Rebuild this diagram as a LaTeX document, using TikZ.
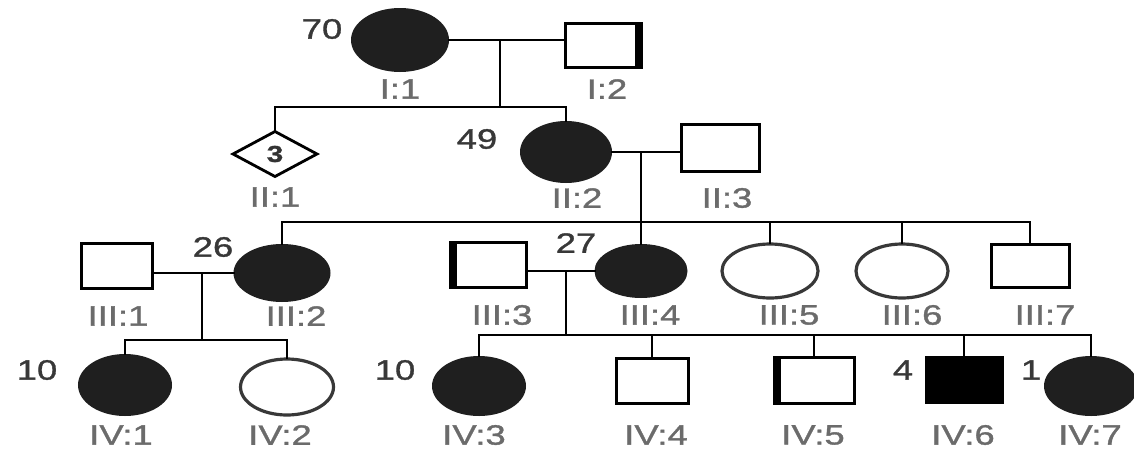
\documentclass[tikz,border=0pt]{standalone}
\usepackage{fontspec}
\setmainfont{Liberation Sans}
\newfontfamily\labfont[FakeStretch=1.3,FakeBold=1.2]{Liberation Sans}
\usetikzlibrary{shapes.geometric}

\tikzset{
  conn/.style={line width=2.6pt, draw=black},
  fem/.style={ellipse, draw, line width=2pt, minimum width=92pt, minimum height=58pt,
              inner sep=0pt, outer sep=0pt},
  aff/.style={fill=black!88, draw=black!88},
  unaff/.style={fill=white, draw=black!78, line width=3.2pt},
  mal/.style={rectangle, draw=black, line width=3pt, fill=white,
              minimum width=76pt, minimum height=45pt, inner sep=0pt, outer sep=0pt},
  malaff/.style={fill=black},
  heavyedge/.style={line width=8pt, draw=black},
  lab/.style={font=\labfont\fontsize{28}{30}\selectfont, text=black!58, inner sep=0pt},
  age/.style={font=\labfont\fontsize{28}{30}\selectfont, text=black!78, inner sep=0pt},
  sibcount/.style={diamond, draw=black, line width=2.8pt, fill=white,
              minimum width=84pt, minimum height=45pt, inner sep=0pt, outer sep=0pt,
              font=\labfont\fontsize{23}{25}\bfseries\selectfont, text=black!80},
}

\begin{document}
\begin{tikzpicture}[x=1pt, y=-1pt]
\fill[white] (0,0) rectangle (1134,450);
\useasboundingbox (0,0) rectangle (1134,450);

% ---------- generation I ----------
\node[fem, aff, minimum width=96pt, minimum height=62pt] (I1) at (400,40) {};
\node[mal, minimum width=76pt, minimum height=44pt] (I2) at (603,45) {};
\draw[heavyedge] ([xshift=-2.5pt]I2.north east) -- ([xshift=-2.5pt]I2.south east);

% ---------- generation II ----------
\node[sibcount] (II1) at (275,154) {3};
\node[fem, aff, minimum width=90pt, minimum height=60pt] (II2) at (566,152) {};
\node[mal, minimum width=78pt, minimum height=47pt] (II3) at (720,148) {};

% ---------- generation III ----------
\node[mal, minimum width=71pt, minimum height=45pt] (III1) at (117,266) {};
\node[fem, aff, minimum width=95pt, minimum height=56pt] (III2) at (282,273) {};
\node[mal, minimum width=76pt, minimum height=45pt] (III3) at (488,265) {};
\draw[heavyedge] ([xshift=2.5pt]III3.north west) -- ([xshift=2.5pt]III3.south west);
\node[fem, aff, minimum width=91pt, minimum height=52pt] (III4) at (641,271) {};
\node[fem, unaff, minimum width=96pt, minimum height=54pt] (III5) at (770,271) {};
\node[fem, unaff, minimum width=92pt, minimum height=54pt] (III6) at (902,271) {};
\node[mal, minimum width=78pt, minimum height=43pt] (III7) at (1030,266) {};

% ---------- generation IV ----------
\node[fem, aff, minimum width=92pt, minimum height=60pt] (IV1) at (125,385) {};
\node[fem, unaff, minimum width=93pt, minimum height=56pt] (IV2) at (287,387) {};
\node[fem, aff, minimum width=92pt, minimum height=58pt] (IV3) at (479,386) {};
\node[mal, minimum width=72pt, minimum height=45pt] (IV4) at (652,381) {};
\node[mal, minimum width=80pt, minimum height=46pt] (IV5) at (814,380) {};
\draw[heavyedge] ([xshift=2.5pt]IV5.north west) -- ([xshift=2.5pt]IV5.south west);
\node[mal, malaff, minimum width=76pt, minimum height=45pt] (IV6) at (964,380) {};
\node[fem, aff, minimum width=92pt, minimum height=58pt] (IV7) at (1091,386) {};

% ---------- junction points ----------
\coordinate (m1) at (500,40);
\coordinate (s1) at (500,107);
\coordinate (m2) at (641,152);
\coordinate (s2) at (641,222);
\coordinate (m3) at (202,273);
\coordinate (s3) at (202,340);
\coordinate (m4) at (566,271);
\coordinate (s4) at (566,335);

% ---------- mating lines and sibships ----------
\draw[conn] (I1.east) -- (I1.east -| I2.west);
\draw[conn] (m1) -- (s1);
\draw[conn] (II1.north) |- (s1) -| (II2.north);

\draw[conn] (II2.east) -- (II2.east -| II3.west);
\draw[conn] (m2) -- (s2);
\draw[conn] (III2.north) |- (s2) -| (III7.north);
\foreach \n in {III4,III5,III6} \draw[conn] (\n.north) -- (\n.north |- s2);

\draw[conn] (III2.west) -- (III2.west -| III1.east);
\draw[conn] (m3) -- (s3);
\draw[conn] (IV1.north) |- (s3) -| (IV2.north);

\draw[conn] (III4.west) -- (III4.west -| III3.east);
\draw[conn] (m4) -- (s4);
\draw[conn] (IV3.north) |- (s4) -| (IV7.north);
\foreach \n in {IV4,IV5,IV6} \draw[conn] (\n.north) -- (\n.north |- s4);

% ---------- ages ----------
\node[age] (aI1)   at (322,29)  {70};
\node[age] (aII2)  at (477,139) {49};
\node[age] (aIII2) at (213,247) {26};
\node[age] (aIII4) at (576,243) {27};
\node[age] (aIV1)  at (37,370)  {10};
\node[age] (aIV3)  at (395,370) {10};
\node[age] (aIV6)  at (903,370) {4};
\node[age] (aIV7)  at (1031,370) {1};

% ---------- identifiers ----------
\node[lab] (lI1)   at (400,89)  {I:1};
\node[lab] (lI2)   at (607,89)  {I:2};
\node[lab] (lII1)  at (275,197) {II:1};
\node[lab] (lII2)  at (577,198) {II:2};
\node[lab] (lII3)  at (727,198) {II:3};
\node[lab] (lIII1) at (118,316) {III:1};
\node[lab] (lIII2) at (296,316) {III:2};
\node[lab] (lIII3) at (502,315) {III:3};
\node[lab] (lIII4) at (650,315) {III:4};
\node[lab] (lIII5) at (789,315) {III:5};
\node[lab] (lIII6) at (912,315) {III:6};
\node[lab] (lIII7) at (1045,315) {III:7};
\node[lab] (lIV1)  at (121,435) {IV:1};
\node[lab] (lIV2)  at (280,435) {IV:2};
\node[lab] (lIV3)  at (474,435) {IV:3};
\node[lab] (lIV4)  at (656,435) {IV:4};
\node[lab] (lIV5)  at (813,435) {IV:5};
\node[lab] (lIV6)  at (963,435) {IV:6};
\node[lab] (lIV7)  at (1090,435) {IV:7};
\end{tikzpicture}
\end{document}
